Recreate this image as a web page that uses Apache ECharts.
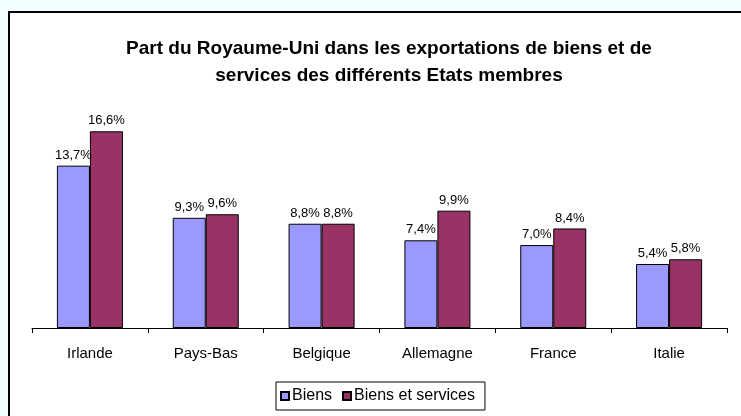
<!DOCTYPE html>
<html>
<head>
    <meta charset="utf-8">
    <title>Part du Royaume-Uni</title>
    <script src="https://cdn.jsdelivr.net/npm/echarts@6/dist/echarts.min.js"></script>
    <style>
        html, body { margin: 0; padding: 0; background: #F0FFFF; }
        #chart { width: 741px; height: 416px; }
    </style>
</head>
<body>
    <div id="chart"></div>
    <script>
        var pays = ['Irlande', 'Pays-Bas', 'Belgique', 'Allemagne', 'France', 'Italie'];
        var biens = [13.7, 9.3, 8.8, 7.4, 7.0, 5.4];
        var biensServices = [16.6, 9.6, 8.8, 9.9, 8.4, 5.8];

        function pct(p) {
            return p.value.toFixed(1).replace('.', ',') + '%';
        }

        var labelStyle = {
            show: true,
            position: 'top',
            distance: 4,
            formatter: pct,
            color: '#000',
            fontFamily: 'Liberation Sans, Arial',
            fontSize: 13
        };

        var chart = echarts.init(document.getElementById('chart'));
        chart.setOption({
            backgroundColor: '#F0FFFF',
            animation: false,
            graphic: [{
                type: 'rect',
                z: -10,
                shape: { x: 9, y: 12, width: 800, height: 500 },
                style: { fill: '#fff', stroke: '#000', lineWidth: 2 }
            }],
            title: {
                text: 'Part du Royaume-Uni dans les exportations de biens et de\nservices des différents Etats membres',
                left: 384,
                textAlign: 'center',
                top: 30,
                textStyle: {
                    fontFamily: 'Liberation Sans, Arial',
                    fontWeight: 'bold',
                    fontSize: 19,
                    lineHeight: 27,
                    color: '#000'
                }
            },
            legend: {
                data: ['Biens', 'Biens et services'],
                left: 276,
                top: 382,
                icon: 'rect',
                itemWidth: 8,
                itemHeight: 8,
                itemGap: 10,
                padding: [6, 10, 6, 4],
                borderColor: '#000',
                borderWidth: 1,
                textStyle: {
                    fontFamily: 'Liberation Sans, Arial',
                    fontSize: 16,
                    color: '#000',
                    padding: [0, 0, 0, -2]
                }
            },
            grid: {
                left: 32,
                right: 14,
                top: 91,
                bottom: 88
            },
            xAxis: {
                type: 'category',
                data: pays,
                axisLine: { lineStyle: { color: '#000', width: 1 } },
                axisTick: { show: true, length: 5, lineStyle: { color: '#000' } },
                axisLabel: {
                    margin: 18,
                    fontFamily: 'Liberation Sans, Arial',
                    fontSize: 15,
                    color: '#000'
                }
            },
            yAxis: {
                type: 'value',
                min: 0,
                max: 20,
                show: false,
                splitLine: { show: false }
            },
            series: [{
                name: 'Biens',
                type: 'bar',
                data: biens,
                barGap: '0%',
                barCategoryGap: '43%',
                itemStyle: { color: '#9999FF', borderColor: '#000', borderWidth: 1 },
                label: labelStyle
            }, {
                name: 'Biens et services',
                type: 'bar',
                data: biensServices,
                itemStyle: { color: '#993366', borderColor: '#000', borderWidth: 1 },
                label: labelStyle
            }]
        });
    </script>
</body>
</html>
